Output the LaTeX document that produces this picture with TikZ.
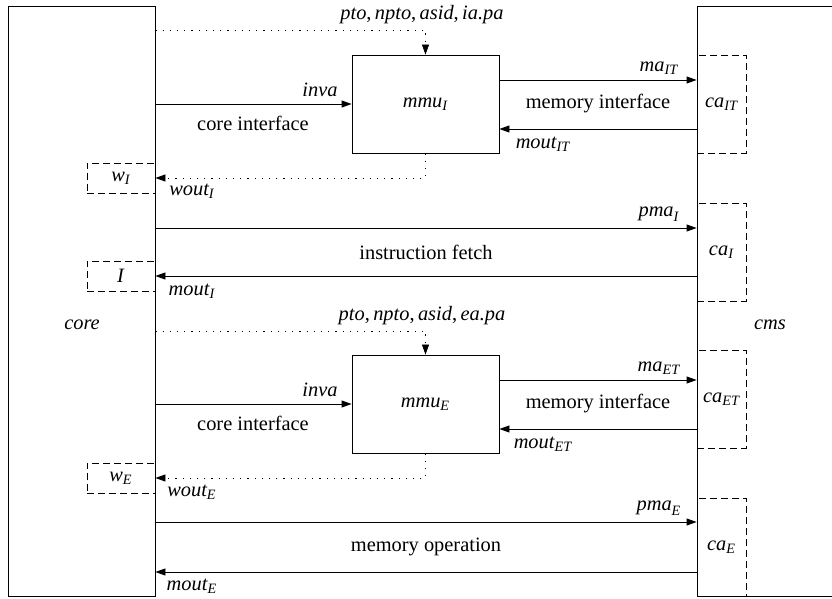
\documentclass[tikz,border=0pt]{standalone}
\usepackage{amsmath}
\usepackage{fontspec}
\setmainfont{Liberation Serif}
\usetikzlibrary{arrows.meta}
\newcommand{\vr}[2]{$\textit{#1}_{\textit{#2}}$}
\tikzset{
  box/.style={draw, rectangle, inner sep=0pt},
  dbox/.style={draw, rectangle, inner sep=0pt, dash pattern=on 3.3pt off 2.2pt},
  sig/.style={-{Triangle[length=5pt,width=3.5pt]}},
  dots/.style={dash pattern=on 0.6pt off 3pt},
  lbl/.style={inner sep=0pt},
}
\begin{document}
\begin{tikzpicture}[x=0.5pt,y=-0.5pt,font=\fontsize{10.2}{12}\selectfont]
\useasboundingbox (0,0) rectangle (832,599);
% main blocks
\node[box, minimum width=73.5pt, minimum height=295pt] (core) at (81.5,301) {};
\node[box, minimum width=130pt, minimum height=295pt] (cms) at (827,301) {};
\node[lbl] (coreL) at (82,325) {\textit{core}};
\node[lbl] (cmsL) at (770,325) {\textit{cms}};
% mmus
\node[box, minimum width=73.5pt, minimum height=49pt] (mmuI) at (425.5,104) {\vr{mmu}{I}};
\node[box, minimum width=73.5pt, minimum height=49pt] (mmuE) at (425.5,404) {\vr{mmu}{E}};
% caches
\node[dbox, minimum width=24.5pt, minimum height=49pt] (caIT) at (721.5,104) {\vr{ca}{IT}};
\node[dbox, minimum width=24.5pt, minimum height=49pt] (caI) at (721.5,252) {\vr{ca}{I}};
\node[dbox, minimum width=24.5pt, minimum height=49pt] (caET) at (721.5,399) {\vr{ca}{ET}};
\node[dbox, minimum width=24.5pt, minimum height=49pt] (caE) at (721.5,547) {\vr{ca}{E}};
% core registers
\node[dbox, minimum width=34pt, minimum height=15pt] (wI) at (121,178) {\vr{w}{I}};
\node[dbox, minimum width=34pt, minimum height=15pt] (Ib) at (121,276) {\textit{I}};
\node[dbox, minimum width=34pt, minimum height=15pt] (wE) at (121,478) {\vr{w}{E}};
% row coordinates
\coordinate (ptI) at (0,30);
\coordinate (maI) at (0,80);
\coordinate (moI) at (0,129);
\coordinate (pmI) at (0,228);
\coordinate (ptE) at (0,331);
\coordinate (maE) at (0,380);
\coordinate (moE) at (0,429);
\coordinate (pmE) at (0,522);
\coordinate (mE) at (0,572);
% instruction side
\draw[dots, sig] (core.east |- ptI) -| (mmuI.north);
\draw[sig] (core.east |- mmuI.west) -- (mmuI.west);
\draw[sig] (mmuI.east |- maI) -- (cms.west |- maI);
\draw[sig] (cms.west |- moI) -- (mmuI.east |- moI);
\draw[dots, sig] (mmuI.south) |- (wI.east);
\draw[sig] (core.east |- pmI) -- (cms.west |- pmI);
\draw[sig] (cms.west |- Ib.east) -- (Ib.east);
% execution side
\draw[dots, sig] (core.east |- ptE) -| (mmuE.north);
\draw[sig] (core.east |- mmuE.west) -- (mmuE.west);
\draw[sig] (mmuE.east |- maE) -- (cms.west |- maE);
\draw[sig] (cms.west |- moE) -- (mmuE.east |- moE);
\draw[dots, sig] (mmuE.south) |- (wE.east);
\draw[sig] (core.east |- pmE) -- (cms.west |- pmE);
\draw[sig] (cms.west |- mE) -- (core.east |- mE);
% labels instruction side
\node[lbl] (lpI) at (422,15) {\textit{pto},\,\textit{npto},\,\textit{asid},\,\textit{ia.pa}};
\node[lbl] (linvaI) at (320,90) {\textit{inva}};
\node[lbl] (lciI) at (253,123) {core interface};
\node[lbl] (lmaIT) at (659,68) {\vr{ma}{IT}};
\node[lbl] (lmiI) at (598,104) {memory interface};
\node[lbl] (lmoIT) at (543,144) {\vr{mout}{IT}};
\node[lbl] (lwoI) at (192,191) {\vr{wout}{I}};
\node[lbl] (lpmI) at (659,214) {\vr{pma}{I}};
\node[lbl] (lif) at (426,252) {instruction fetch};
\node[lbl] (lmoI) at (192,291) {\vr{mout}{I}};
% labels execution side
\node[lbl] (lpE) at (422,316) {\textit{pto},\,\textit{npto},\,\textit{asid},\,\textit{ea.pa}};
\node[lbl] (linvaE) at (320,390) {\textit{inva}};
\node[lbl] (lciE) at (253,423) {core interface};
\node[lbl] (lmaET) at (659,368) {\vr{ma}{ET}};
\node[lbl] (lmiE) at (598,404) {memory interface};
\node[lbl] (lmoET) at (543,444) {\vr{mout}{ET}};
\node[lbl] (lwoE) at (192,492) {\vr{wout}{E}};
\node[lbl] (lpmE) at (659,508) {\vr{pma}{E}};
\node[lbl] (lmo) at (426,547) {memory operation};
\node[lbl] (lmoE) at (192,586) {\vr{mout}{E}};
\end{tikzpicture}
\end{document}
